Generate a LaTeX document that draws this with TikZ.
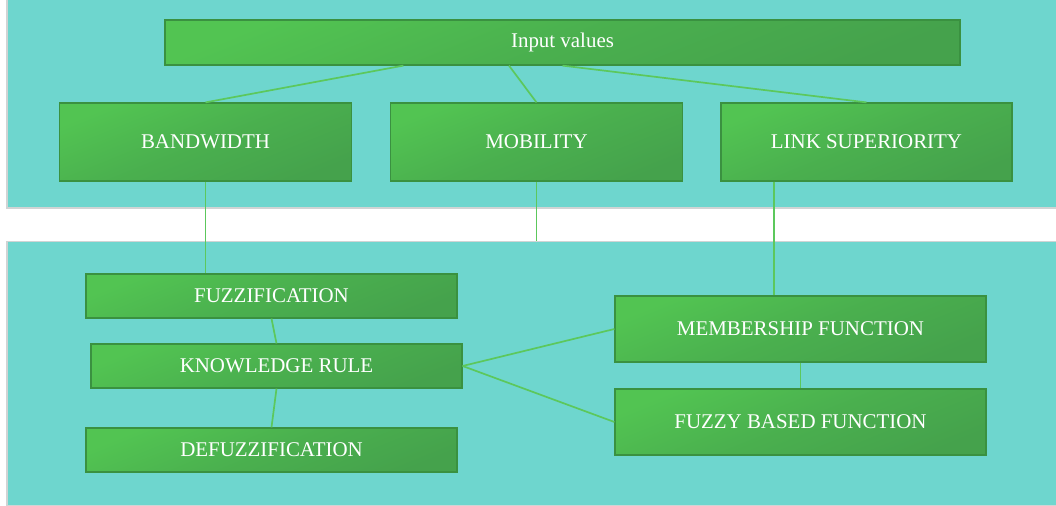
\documentclass[tikz,border=0pt]{standalone}
\usepackage{fontspec}
\setmainfont{Liberation Serif}
\usetikzlibrary{positioning}

\definecolor{panelcyan}{RGB}{110,214,206}
\definecolor{panelrim}{RGB}{208,212,212}
\definecolor{boxlight}{RGB}{82,196,82}
\definecolor{boxdark}{RGB}{69,162,76}
\definecolor{boxrim}{RGB}{58,145,64}
\definecolor{linkgreen}{RGB}{92,200,92}

\tikzset{
  panel/.style={draw=panelrim, line width=1.5bp, fill=panelcyan},
  stage/.style={draw=boxrim, line width=1.2bp, top color=boxlight, bottom color=boxdark,
    middle color=boxdark!60!boxlight, shading angle=22, text=white, inner sep=0pt,
    font=\fontsize{21}{25}\selectfont},
  wire/.style={draw=linkgreen, line width=1.7bp}
}

\begin{document}
\begin{tikzpicture}[x=1bp,y=-1bp]
  \useasboundingbox (0,0) rectangle (1056,506);
  \clip (0,0) rectangle (1056,506);

  % the two bands
  \node[panel, anchor=north west, minimum width=1060bp, minimum height=209bp] (upper) at (6,-2) {};
  \node[panel, anchor=north west, minimum width=1060bp, minimum height=264bp] (lower) at (6,241) {};

  % inputs
  \node[stage, minimum width=795bp, minimum height=45bp] (input) at (562.5,42.5) {Input values};
  \node[stage, minimum width=292bp, minimum height=78bp] (band) at (205.5,142) {BANDWIDTH};
  \node[stage, minimum width=292bp, minimum height=78bp] (mob) at (536.5,142) {MOBILITY};
  \node[stage, minimum width=291bp, minimum height=78bp] (link) at (866.5,142) {LINK SUPERIORITY};

  % fuzzy stages
  \node[stage, minimum width=371bp, minimum height=44bp] (fuzz) at (271.5,296) {FUZZIFICATION};
  \node[stage, minimum width=371bp, minimum height=44bp] (rule) at (276.5,366) {KNOWLEDGE RULE};
  \node[stage, minimum width=371bp, minimum height=44bp] (defuzz) at (271.5,450) {DEFUZZIFICATION};
  \node[stage, minimum width=371bp, minimum height=66bp] (member) at (800.5,329) {MEMBERSHIP FUNCTION};
  \node[stage, minimum width=371bp, minimum height=66bp] (fbased) at (800.5,422) {FUZZY BASED FUNCTION};

  % connections
  \draw[wire] ([xshift=239bp]input.south west) -- (band.north);
  \draw[wire] ([xshift=-53.5bp]input.south) -- (mob.north);
  \draw[wire] (input.south) -- (link.north);
  \draw[wire] (band.south) -- (band.south |- fuzz.north);
  \draw[wire] (mob.south) -- (mob.south |- lower.north);
  \draw[wire] ([xshift=53.5bp]link.south west) -- ([xshift=53.5bp]link.south west |- member.north);
  \draw[wire] (fuzz.south) -- (rule.north);
  \draw[wire] (rule.south) -- (defuzz.north);
  \draw[wire] (rule.east) -- (member.west);
  \draw[wire] (rule.east) -- (fbased.west);
  \draw[wire] (member.south) -- (fbased.north);
\end{tikzpicture}
\end{document}
